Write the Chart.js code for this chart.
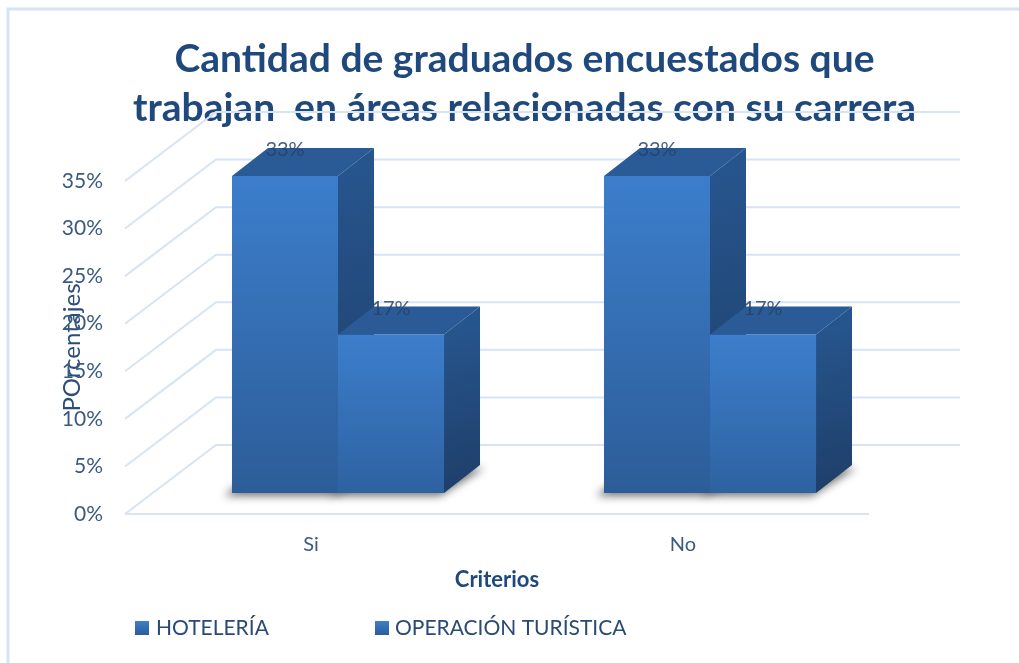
<!DOCTYPE html>
<html>
<head>
<meta charset="utf-8">
<script src="https://cdn.jsdelivr.net/npm/chart.js@4.4.1/dist/chart.umd.min.js"></script>
<style>
  html, body { margin: 0; padding: 0; background: #ffffff; }
  #wrap { width: 1019px; height: 663px; }
</style>
</head>
<body>
<div id="wrap"><canvas id="c" width="1019" height="663"></canvas></div>
<script>
// ---- data ----
const categories = ['Si', 'No'];
const seriesNames = ['HOTELERÍA', 'OPERACIÓN TURÍSTICA'];
const hoteleria = [33.33, 33.33];
const operacion = [16.67, 16.67];
const titleLines = ['Cantidad de graduados encuestados que', 'trabajan  en áreas relacionadas con su carrera'];
const yAxisTitle = 'POrcentajes';
const xAxisTitle = 'Criterios';
const yMax = 35;
const yStep = 5;

// ---- styling / 3D geometry ----
const FONT = 'Lato';
const TITLE_COLOR = '#1f497d';
const TEXT_COLOR = '#3b5a82';
const GRID_COLOR = '#d8e4f4';
const WALL_DX = 91, WALL_DY = -69;   // depth of the walls
const BAR_DX = 27, BAR_DY = -21;     // bars' front plane offset
const BAR_DEPTH_X = 36, BAR_DEPTH_Y = -28; // bar depth

function frontGradient(c, top, bottom) {
  const ch = c.chart;
  const y = ch.scales && ch.scales.y;
  if (!y || c.raw == null) return top;
  const y0 = y.getPixelForValue(c.raw), y1 = y.getPixelForValue(0);
  if (!isFinite(y0) || !isFinite(y1) || y0 === y1) return top;
  const g = ch.ctx.createLinearGradient(0, y0, 0, y1);
  g.addColorStop(0, top);
  g.addColorStop(1, bottom);
  return g;
}

const threeD = {
  id: 'threeD',
  beforeDraw(chart) {
    const ctx = chart.ctx;
    ctx.save();
    ctx.fillStyle = '#ffffff';
    ctx.fillRect(0, 0, chart.width, chart.height);
    ctx.strokeStyle = '#d6e3f4';
    ctx.lineWidth = 3;
    ctx.beginPath();
    ctx.moveTo(8, chart.height);
    ctx.lineTo(8, 9);
    ctx.lineTo(chart.width, 9);
    ctx.stroke();
    ctx.restore();
  },
  beforeDatasetsDraw(chart) {
    const ctx = chart.ctx;
    const {left, right, bottom} = chart.chartArea;
    const ys = chart.scales.y;
    ctx.save();
    ctx.strokeStyle = GRID_COLOR;
    ctx.lineWidth = 2;
    ys.ticks.forEach(t => {
      const py = ys.getPixelForValue(t.value);
      ctx.beginPath();
      ctx.moveTo(left, py);
      ctx.lineTo(left + WALL_DX, py + WALL_DY);
      ctx.lineTo(right + WALL_DX, py + WALL_DY);
      ctx.stroke();
    });
    ctx.beginPath();
    ctx.moveTo(left, bottom);
    ctx.lineTo(right, bottom);
    ctx.stroke();
    ctx.restore();

    // shadows
    ctx.save();
    ctx.translate(BAR_DX, BAR_DY);
    ctx.filter = 'blur(4px)';
    ctx.fillStyle = 'rgba(0,0,0,0.55)';
    chart.data.datasets.forEach((ds, di) => {
      chart.getDatasetMeta(di).data.forEach(el => {
        const L = el.x - el.width / 2 - 8, R = el.x + el.width / 2 - 4, B = el.base + 3;
        ctx.beginPath();
        ctx.moveTo(L, B);
        ctx.lineTo(R, B);
        ctx.lineTo(R + BAR_DEPTH_X + 8, B + BAR_DEPTH_Y);
        ctx.lineTo(L + BAR_DEPTH_X, B + BAR_DEPTH_Y);
        ctx.closePath();
        ctx.fill();
      });
    });
    ctx.restore();

    ctx.save();
    ctx.translate(BAR_DX, BAR_DY);
    drawFaces(ctx, chart, 0);
    ctx.restore();

    ctx.save();
    ctx.translate(BAR_DX, BAR_DY);
  },
  afterDatasetsDraw(chart) {
    const ctx = chart.ctx;
    ctx.restore();
    ctx.save();
    ctx.translate(BAR_DX, BAR_DY);
    drawFaces(ctx, chart, 1);
    ctx.font = '20px ' + FONT;
    ctx.fillStyle = 'rgba(38,66,104,0.85)';
    ctx.textAlign = 'center';
    ctx.textBaseline = 'middle';
    chart.data.datasets.forEach((ds, di) => {
      chart.getDatasetMeta(di).data.forEach((el, i) => {
        ctx.fillText(Math.round(ds.data[i]) + '%', el.x, el.y - 26);
      });
    });
    ctx.restore();
  },
  afterDraw(chart) {
    const ctx = chart.ctx;
    ctx.save();
    ctx.font = '21px ' + FONT;
    ctx.textBaseline = 'middle';
    ctx.textAlign = 'left';
    const items = [{sx: 135, tx: 156}, {sx: 375, tx: 395}];
    seriesNames.forEach((name, i) => {
      const g = ctx.createLinearGradient(0, 621, 0, 635);
      g.addColorStop(0, '#3d7fcc');
      g.addColorStop(1, '#2b5c98');
      ctx.fillStyle = g;
      ctx.fillRect(items[i].sx, 621, 14, 14);
      ctx.fillStyle = '#2a4a76';
      ctx.fillText(name, items[i].tx, 628);
    });
    ctx.restore();
  }
};

function drawFaces(ctx, chart, di) {
  const meta = chart.getDatasetMeta(di);
  meta.data.forEach(el => {
    const L = el.x - el.width / 2, R = el.x + el.width / 2, T = el.y, B = el.base;
    ctx.fillStyle = '#2a5b96';
    ctx.beginPath();
    ctx.moveTo(L, T);
    ctx.lineTo(R, T);
    ctx.lineTo(R + BAR_DEPTH_X, T + BAR_DEPTH_Y);
    ctx.lineTo(L + BAR_DEPTH_X, T + BAR_DEPTH_Y);
    ctx.closePath();
    ctx.fill();
    const g = ctx.createLinearGradient(R, T, R + BAR_DEPTH_X, B);
    g.addColorStop(0, '#26548c');
    g.addColorStop(1, '#1e3e68');
    ctx.fillStyle = g;
    ctx.beginPath();
    ctx.moveTo(R, T);
    ctx.lineTo(R + BAR_DEPTH_X, T + BAR_DEPTH_Y);
    ctx.lineTo(R + BAR_DEPTH_X, B + BAR_DEPTH_Y);
    ctx.lineTo(R, B);
    ctx.closePath();
    ctx.fill();
  });
}

new Chart(document.getElementById('c'), {
  type: 'bar',
  data: {
    labels: categories,
    datasets: [
      { label: seriesNames[0], data: hoteleria,
        backgroundColor: c => frontGradient(c, '#3c7ecc', '#2c5d98') },
      { label: seriesNames[1], data: operacion,
        backgroundColor: c => frontGradient(c, '#3c7ecc', '#2e62a1') }
    ]
  },
  options: {
    responsive: false,
    animation: false,
    events: [],
    layout: { padding: { left: 30, right: 0, top: 0, bottom: 0 } },
    datasets: { bar: { categoryPercentage: 0.57, barPercentage: 1.0, borderWidth: 0, clip: false } },
    plugins: {
      legend: { display: false },
      tooltip: { enabled: false },
      title: {
        display: true,
        text: titleLines,
        color: TITLE_COLOR,
        font: { family: FONT, size: 39, weight: 'bold', lineHeight: '49px' },
        padding: { top: 34.5, bottom: 48.5 }
      }
    },
    scales: {
      x: {
        offset: true,
        grid: { display: false, drawTicks: false },
        border: { display: false },
        ticks: { color: TEXT_COLOR, font: { family: FONT, size: 20 }, padding: 19 },
        title: { display: true, text: xAxisTitle, color: TITLE_COLOR,
                 font: { family: FONT, size: 22, weight: 'bold' }, padding: { top: 0, bottom: 69.8 } },
        afterFit(s) { s.height = 149; }
      },
      y: {
        min: 0, max: yMax,
        grid: { display: false, drawTicks: false },
        border: { display: false },
        ticks: { stepSize: yStep, color: TEXT_COLOR, font: { family: FONT, size: 21 }, padding: 22,
                 callback: v => v + '%' },
        title: { display: true, text: yAxisTitle, color: '#2c4d7a',
                 font: { family: FONT, size: 24 }, padding: { top: 27.6, bottom: 0 } },
        afterFit(s) { s.width = 95; }
      },
      yRight: {
        type: 'linear',
        position: 'right',
        display: true,
        grid: { display: false, drawTicks: false },
        border: { display: false },
        ticks: { display: false },
        afterFit(s) { s.width = 150; }
      }
    }
  },
  plugins: [threeD]
});
</script>
</body>
</html>
